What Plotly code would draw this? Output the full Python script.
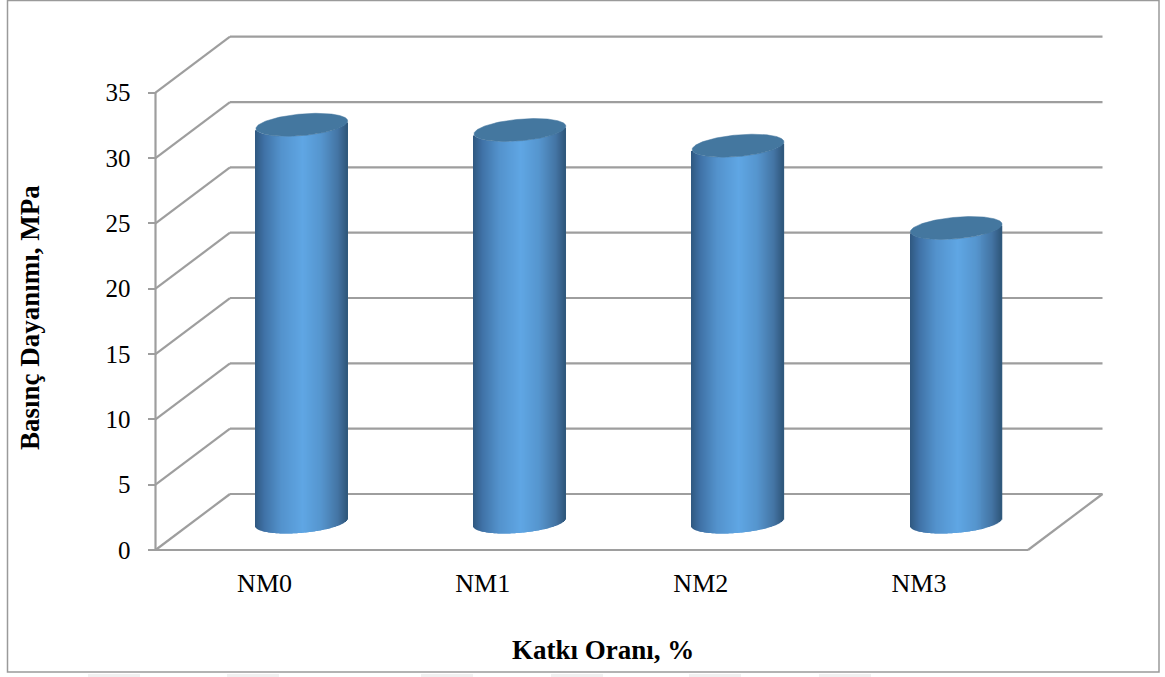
import numpy as np
import plotly.graph_objects as go

# Compressive strength per mix
categories = ["NM0", "NM1", "NM2", "NM3"]
strength_mpa = [30.4, 30.0, 28.8, 22.5]
value_ticks = [0, 5, 10, 15, 20, 25, 30, 35]
x_title = "Katkı Oranı, %"
y_title = "Basınç Dayanımı, MPa"

# Page geometry (px)
W, H = 1165, 677
ZERO_Y, TOP_Y = 550.0, 92.7      # pixel rows of value 0 and 35 on the front axis
AXIS_X, FRONT_END_X = 155.5, 1028.0
DEPTH_PX_X, DEPTH_PX_Y = 74.5, 56.0  # oblique offset of the back wall

PX_PER_VALUE = (ZERO_Y - TOP_Y) / (value_ticks[-1] - value_ticks[0])
PX_PER_CAT = (FRONT_END_X - AXIS_X) / len(categories)
CAT0_X = AXIS_X + PX_PER_CAT / 2

x_range = [(0 - CAT0_X) / PX_PER_CAT, (W - CAT0_X) / PX_PER_CAT]
y_range = [(ZERO_Y - H) / PX_PER_VALUE, ZERO_Y / PX_PER_VALUE]

DEPTH_X = DEPTH_PX_X / PX_PER_CAT
DEPTH_Y = DEPTH_PX_Y / PX_PER_VALUE
LEFT = -0.5
RIGHT = len(categories) - 0.5

GRID = "#9e9e9e"
TEXT = "#000000"
SERIF = "Liberation Serif"

# Faint page marks running under the frame: left edge px, width 52
page_mark_x = [88, 227, 421, 551, 689, 819]


def segments(pairs):
    xs, ys = [], []
    for (x0, y0), (x1, y1) in pairs:
        xs += [x0, x1, None]
        ys += [y0, y1, None]
    return xs, ys


# Wall, floor and side panel lines of the 3D frame
frame = []
top = value_ticks[-1]
frame.append(((LEFT, 0), (LEFT, top)))
for v in value_ticks:
    frame.append(((LEFT, v), (LEFT + DEPTH_X, v + DEPTH_Y)))
    frame.append(((LEFT + DEPTH_X, v + DEPTH_Y), (RIGHT + DEPTH_X, v + DEPTH_Y)))
frame.append(((LEFT, 0), (RIGHT, 0)))
frame.append(((RIGHT, 0), (RIGHT + DEPTH_X, DEPTH_Y)))
fx, fy = segments(frame)

fig = go.Figure()
fig.add_trace(go.Scatter(x=fx, y=fy, mode="lines", xaxis="x", yaxis="y",
                         line=dict(color=GRID, width=2.2), hoverinfo="skip", showlegend=False))

# Cylinder cross-section as seen on the sheared floor
RADIUS_U = 43.3 / PX_PER_CAT
RADIUS_D = 11.5 / DEPTH_PX_Y
t = np.linspace(0, 2 * np.pi, 241)
ring_x = RADIUS_U * np.cos(t) + RADIUS_D * DEPTH_X * np.sin(t)
ring_y = RADIUS_D * DEPTH_Y * np.sin(t)

half = np.hypot(RADIUS_U, RADIUS_D * DEPTH_X)
t_right = np.arctan2(RADIUS_D * DEPTH_X, RADIUS_U)
t_low = np.linspace(t_right - np.pi, t_right, 181)
low_x = RADIUS_U * np.cos(t_low) + RADIUS_D * DEPTH_X * np.sin(t_low)
low_y = RADIUS_D * DEPTH_Y * np.sin(t_low)

SLICE_PX = 1.0
n_slices = int(round(2 * half * PX_PER_CAT / SLICE_PX))
offsets = (np.arange(n_slices) + 0.5) / n_slices * 2 * half - half
lower_arc = np.interp(offsets, low_x, low_y)

# Horizontal shading across the cylinder body
stops = np.array([0.0, 0.10, 0.28, 0.52, 0.72, 0.90, 1.0])
reds = np.array([0x2f, 0x3f, 0x53, 0x5f, 0x55, 0x44, 0x2f])
greens = np.array([0x58, 0x71, 0x92, 0xa6, 0x95, 0x74, 0x57])
blues = np.array([0x80, 0xa6, 0xcc, 0xe4, 0xce, 0xa4, 0x7b])
u = (offsets + half) / (2 * half)
slice_colors = [
    f"rgb({r:.0f},{g:.0f},{b:.0f})"
    for r, g, b in zip(np.interp(u, stops, reds), np.interp(u, stops, greens), np.interp(u, stops, blues))
]

bar_x, bar_base, bar_h, bar_c = [], [], [], []
for i, val in enumerate(strength_mpa):
    cx = i + 0.5 * DEPTH_X
    cy = 0.5 * DEPTH_Y
    bar_x += list(cx + offsets)
    bar_base += list(cy + lower_arc)
    bar_h += [val] * n_slices
    bar_c += slice_colors

fig.add_trace(go.Bar(x=bar_x, y=bar_h, base=bar_base, width=1.3 * SLICE_PX / PX_PER_CAT,
                     marker=dict(color=bar_c, line=dict(width=0)),
                     xaxis="x2", yaxis="y2", hoverinfo="skip", showlegend=False))

for i, val in enumerate(strength_mpa):
    cx = i + 0.5 * DEPTH_X
    cy = 0.5 * DEPTH_Y + val
    fig.add_trace(go.Scatter(x=cx + ring_x, y=cy + ring_y, mode="lines", fill="toself",
                             fillcolor="#44779f", line=dict(color="#44779f", width=0.5),
                             xaxis="x2", yaxis="y2", name=categories[i], showlegend=False))

shapes = [
    dict(type="rect", xref="paper", yref="paper", x0=7.5 / W, x1=1159 / W,
         y0=1 - 672 / H, y1=1 - 0.5 / H, line=dict(color="#9a9a9a", width=1.5), layer="below"),
]
for mx in page_mark_x:
    shapes.append(dict(type="rect", xref="paper", yref="paper", x0=mx / W, x1=(mx + 52) / W,
                       y0=0, y1=1 - 674 / H, fillcolor="#f1f1f1", line=dict(width=0), layer="below"))

fig.update_layout(
    width=W, height=H, margin=dict(l=0, r=0, t=0, b=0),
    paper_bgcolor="white", plot_bgcolor="white", showlegend=False, barmode="overlay",
    xaxis=dict(range=x_range, domain=[0, 1], anchor="free", position=(H - ZERO_Y) / H,
               tickmode="array", tickvals=list(range(len(categories))), ticktext=categories,
               ticks="", showgrid=False, zeroline=False, showline=False,
               ticklabelstandoff=15, tickfont=dict(family=SERIF, size=26, color=TEXT)),
    yaxis=dict(range=y_range, domain=[0, 1], anchor="free", position=AXIS_X / W,
               tickmode="array", tickvals=value_ticks, ticks="outside", ticklen=8, tickwidth=2,
               tickcolor=GRID, showgrid=False, zeroline=False, showline=False,
               ticklabelstandoff=12, tickfont=dict(family=SERIF, size=25, color=TEXT)),
    xaxis2=dict(range=x_range, overlaying="x", anchor="y2", visible=False),
    yaxis2=dict(range=y_range, overlaying="y", anchor="x2", visible=False),
    shapes=shapes,
    annotations=[
        dict(text=f"<b>{x_title}</b>", xref="paper", yref="paper", x=603 / W, y=1 - 650 / H,
             showarrow=False, xanchor="center", yanchor="middle",
             font=dict(family=SERIF, size=27, color=TEXT)),
        dict(text=f"<b>{y_title}</b>", xref="paper", yref="paper", x=30 / W, y=1 - 318 / H,
             showarrow=False, xanchor="center", yanchor="middle", textangle=-90,
             font=dict(family=SERIF, size=27, color=TEXT)),
    ],
)

fig.write_html("out.html")
